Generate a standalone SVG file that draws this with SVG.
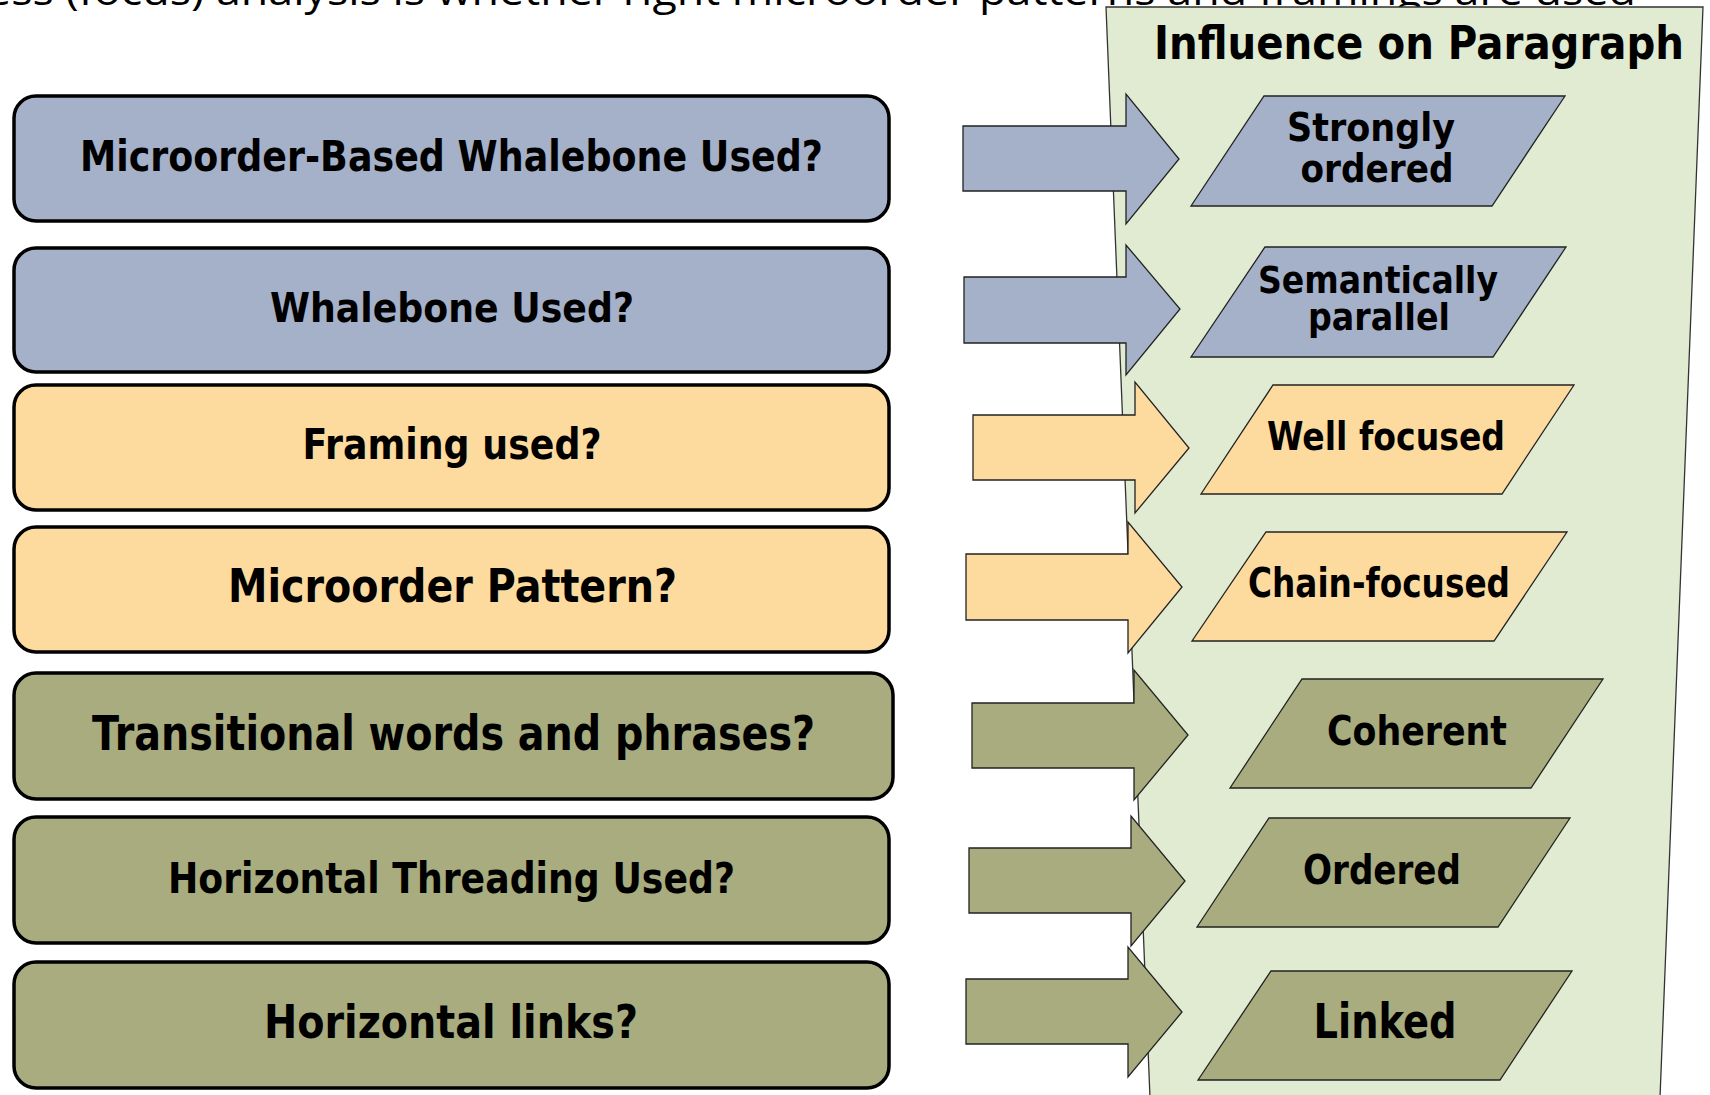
<svg xmlns="http://www.w3.org/2000/svg" width="1710" height="1095" viewBox="0 0 1710 1095">
<style>
.box{stroke:#000;stroke-width:3.5}
.blue{fill:#A4B1C9}
.orange{fill:#FDDA9E}
.olive{fill:#A8AC7E}
.arr{stroke:#222;stroke-width:1.3;stroke-linejoin:miter}
.para{stroke:#222;stroke-width:1.3}
.t{font-family:"DejaVu Sans","Liberation Sans",sans-serif;font-weight:bold;fill:#000;text-anchor:middle}
.top{font-family:"Open Sans","Liberation Sans",sans-serif;fill:#000;font-size:40px}
</style>
<rect width="1710" height="1095" fill="#fff"/>
<text class="top" x="-14" y="5" textLength="1650" lengthAdjust="spacingAndGlyphs">ess (focus) analysis is whether right microorder patterns and framings are used</text>
<g id="panel">
<polygon points="1106,7 1703,7 1660,1098 1150,1098" fill="#E0EBD1" stroke="#333" stroke-width="1.3"/>
<text class="t" x="1419" y="59" font-size="46" textLength="530" lengthAdjust="spacingAndGlyphs">Influence on Paragraph</text>
</g>
<g id="q1"><rect class="box blue" x="14" y="96" width="875" height="125" rx="22"/><text class="t" x="451.5" y="171" font-size="42.5" textLength="743" lengthAdjust="spacingAndGlyphs">Microorder-Based Whalebone Used?</text></g>
<g id="q2"><rect class="box blue" x="14" y="248" width="875" height="124" rx="22"/><text class="t" x="452" y="322" font-size="41.5" textLength="364" lengthAdjust="spacingAndGlyphs">Whalebone Used?</text></g>
<g id="q3"><rect class="box orange" x="14" y="385" width="875" height="125" rx="22"/><text class="t" x="452" y="459" font-size="42.5" textLength="299" lengthAdjust="spacingAndGlyphs">Framing used?</text></g>
<g id="q4"><rect class="box orange" x="14" y="527" width="875" height="125" rx="22"/><text class="t" x="452.5" y="602" font-size="46.5" textLength="449" lengthAdjust="spacingAndGlyphs">Microorder Pattern?</text></g>
<g id="q5"><rect class="box olive" x="14" y="673" width="879" height="126" rx="22"/><text class="t" x="453.5" y="750" font-size="48" textLength="723" lengthAdjust="spacingAndGlyphs">Transitional words and phrases?</text></g>
<g id="q6"><rect class="box olive" x="14" y="817" width="875" height="126" rx="22"/><text class="t" x="451.5" y="893" font-size="43.5" textLength="567" lengthAdjust="spacingAndGlyphs">Horizontal Threading Used?</text></g>
<g id="q7"><rect class="box olive" x="14" y="962" width="875" height="126" rx="22"/><text class="t" x="451" y="1038" font-size="46.5" textLength="374" lengthAdjust="spacingAndGlyphs">Horizontal links?</text></g>
<g id="connectors">
<polygon class="arr blue" points="963,126 1126,126 1126,94 1179,159 1126,224 1126,191 963,191"/>
<polygon class="arr blue" points="964,277 1126,277 1126,245 1180,309 1126,375 1126,343 964,343"/>
<polygon class="arr orange" points="973,415 1135,415 1135,382 1189,448 1135,513 1135,480 973,480"/>
<polygon class="arr orange" points="966,554 1128,554 1128,522 1182,587 1128,653 1128,620 966,620"/>
<polygon class="arr olive" points="972,703 1134,703 1134,670 1188,735 1134,800 1134,768 972,768"/>
<polygon class="arr olive" points="969,848 1131,848 1131,816 1185,881 1131,946 1131,913 969,913"/>
<polygon class="arr olive" points="966,979 1128,979 1128,947 1182,1012 1128,1077 1128,1044 966,1044"/>
</g>
<g id="r1"><polygon class="para blue" points="1264,96 1565,96 1492,206 1191,206"/><text class="t" x="1371" y="141" font-size="38.5" textLength="168" lengthAdjust="spacingAndGlyphs">Strongly</text><text class="t" x="1377" y="182" font-size="38.5" textLength="153" lengthAdjust="spacingAndGlyphs">ordered</text></g>
<g id="r2"><polygon class="para blue" points="1265,247 1566,247 1493,357 1191,357"/><text class="t" x="1378" y="293" font-size="37.5" textLength="240" lengthAdjust="spacingAndGlyphs">Semantically</text><text class="t" x="1379" y="330" font-size="37.5" textLength="142" lengthAdjust="spacingAndGlyphs">parallel</text></g>
<g id="r3"><polygon class="para orange" points="1273,385 1574,385 1502,494 1201,494"/><text class="t" x="1386" y="450" font-size="38.5" textLength="238" lengthAdjust="spacingAndGlyphs">Well focused</text></g>
<g id="r4"><polygon class="para orange" points="1266,532 1567,532 1494,641 1192,641"/><text class="t" x="1379" y="597" font-size="41" textLength="262" lengthAdjust="spacingAndGlyphs">Chain-focused</text></g>
<g id="r5"><polygon class="para olive" points="1302,679 1603,679 1531,788 1230,788"/><text class="t" x="1417" y="745" font-size="40" textLength="180" lengthAdjust="spacingAndGlyphs">Coherent</text></g>
<g id="r6"><polygon class="para olive" points="1269,818 1570,818 1498,927 1197,927"/><text class="t" x="1382" y="884" font-size="41" textLength="158" lengthAdjust="spacingAndGlyphs">Ordered</text></g>
<g id="r7"><polygon class="para olive" points="1271,971 1572,971 1500,1080 1198,1080"/><text class="t" x="1385" y="1038" font-size="48" textLength="143" lengthAdjust="spacingAndGlyphs">Linked</text></g>
</svg>
